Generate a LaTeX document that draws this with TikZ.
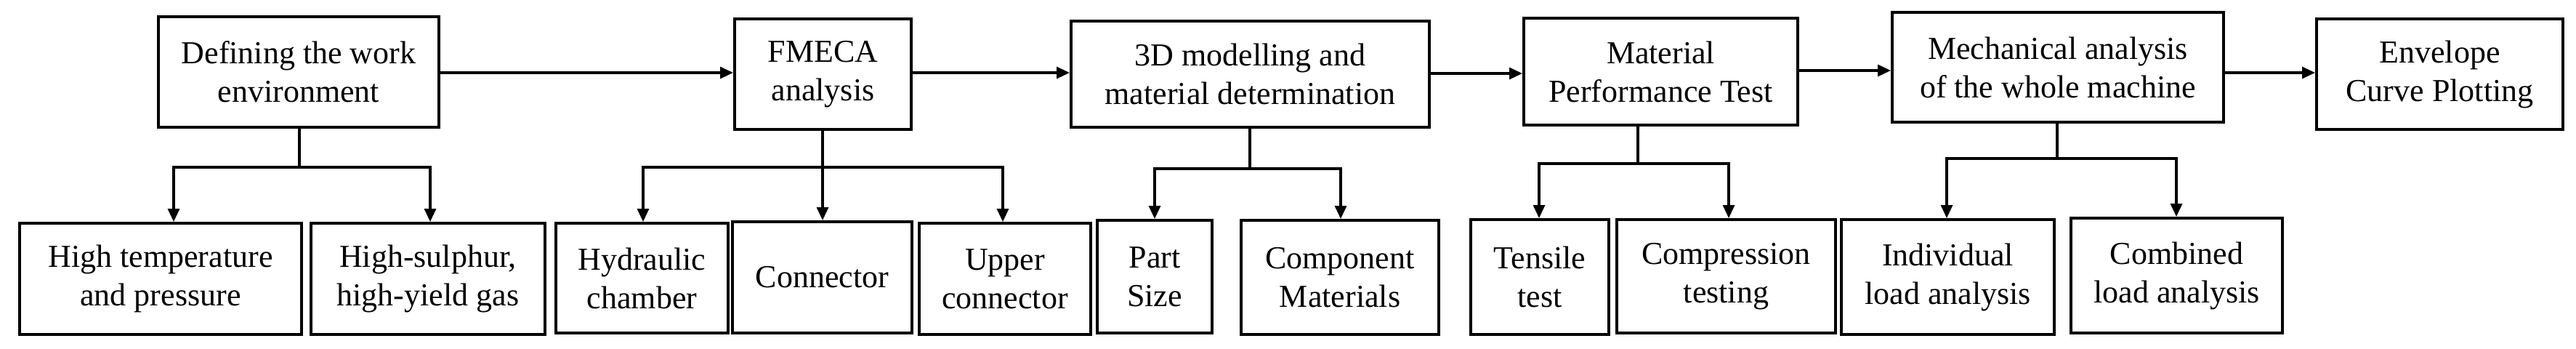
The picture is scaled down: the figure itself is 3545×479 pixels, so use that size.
\documentclass[tikz,border=0pt]{standalone}
\usepackage{fontspec}
\setmainfont{Liberation Serif}
\usetikzlibrary{arrows.meta}
\begin{document}
\begin{tikzpicture}[x=0.5pt,y=-0.5pt,
  box/.style={draw,line width=2pt,align=center,inner sep=0pt,font=\fontsize{22}{26.5}\selectfont},
  arr/.style={line width=1.6pt,-{Triangle[length=9pt,width=8pt]}},
  ln/.style={line width=1.6pt}]
\useasboundingbox (0,0) rectangle (3545,479);
\newcommand{\bx}[6]{\node[box,minimum width={(#4-#2)*0.5pt},minimum height={(#5-#3)*0.5pt}] (#1) at ({(#2+#4)/2},{(#3+#5)/2}) {#6};}
\bx{a}{218}{23}{604}{175}{Defining the work\\environment}
\bx{b}{1011}{26}{1254}{178}{FMECA\\analysis}
\bx{c}{1474}{29}{1967}{175}{3D modelling and\\material determination}
\bx{d}{2097}{25}{2474}{172}{Material\\Performance Test}
\bx{e}{2604}{17}{3060}{168}{Mechanical analysis\\of the whole machine}
\bx{f}{3188}{26}{3527}{178}{Envelope\\Curve Plotting}
\bx{a1}{27}{307}{415}{460}{High temperature\\and pressure}
\bx{a2}{428}{307}{750}{460}{High-sulphur,\\high-yield gas}
\bx{b1}{765}{307}{1002}{458}{Hydraulic\\chamber}
\bx{b2}{1008}{305}{1255}{458}{Connector}
\bx{b3}{1265}{307}{1501}{460}{Upper\\connector}
\bx{c1}{1510}{303}{1668}{458}{Part\\Size}
\bx{c2}{1708}{303}{1980}{460}{Component\\Materials}
\bx{d1}{2024}{302}{2214}{460}{Tensile\\test}
\bx{d2}{2225}{302}{2526}{458}{Compression\\testing}
\bx{e1}{2534}{302}{2827}{460}{Individual\\load analysis}
\bx{e2}{2850}{300}{3141}{458}{Combined\\load analysis}
\draw[arr] (a.east |- 0,100) -- (b.west |- 0,100);
\draw[arr] (b.east |- 0,100) -- (c.west |- 0,100);
\draw[arr] (c.east |- 0,101) -- (d.west |- 0,101);
\draw[arr] (d.east |- 0,97) -- (e.west |- 0,97);
\draw[arr] (e.east |- 0,100) -- (f.west |- 0,100);
% branches
\coordinate (ja) at (412,230); \coordinate (jb) at (1132,230);
\coordinate (jc) at (1720,232); \coordinate (jd) at (2254,225); \coordinate (je) at (2831,218);
\draw[ln] (a.south -| ja) -- (ja);
\draw[arr] (ja) -| (a1.north -| 239,0);
\draw[arr] (ja) -| (a2.north -| 592,0);
\draw[ln] (b.south -| jb) -- (jb);
\draw[arr] (jb) -| (b1.north -| 885,0);
\draw[arr] (jb) -- (b2.north -| jb);
\draw[arr] (jb) -| (b3.north -| 1380,0);
\draw[ln] (c.south -| jc) -- (jc);
\draw[arr] (jc) -| (c1.north -| 1589,0);
\draw[arr] (jc) -| (c2.north -| 1845,0);
\draw[ln] (d.south -| jd) -- (jd);
\draw[arr] (jd) -| (d1.north -| 2118,0);
\draw[arr] (jd) -| (d2.north -| 2379,0);
\draw[ln] (e.south -| je) -- (je);
\draw[arr] (je) -| (e1.north -| 2679,0);
\draw[arr] (je) -| (e2.north -| 2995,0);
\end{tikzpicture}
\end{document}
